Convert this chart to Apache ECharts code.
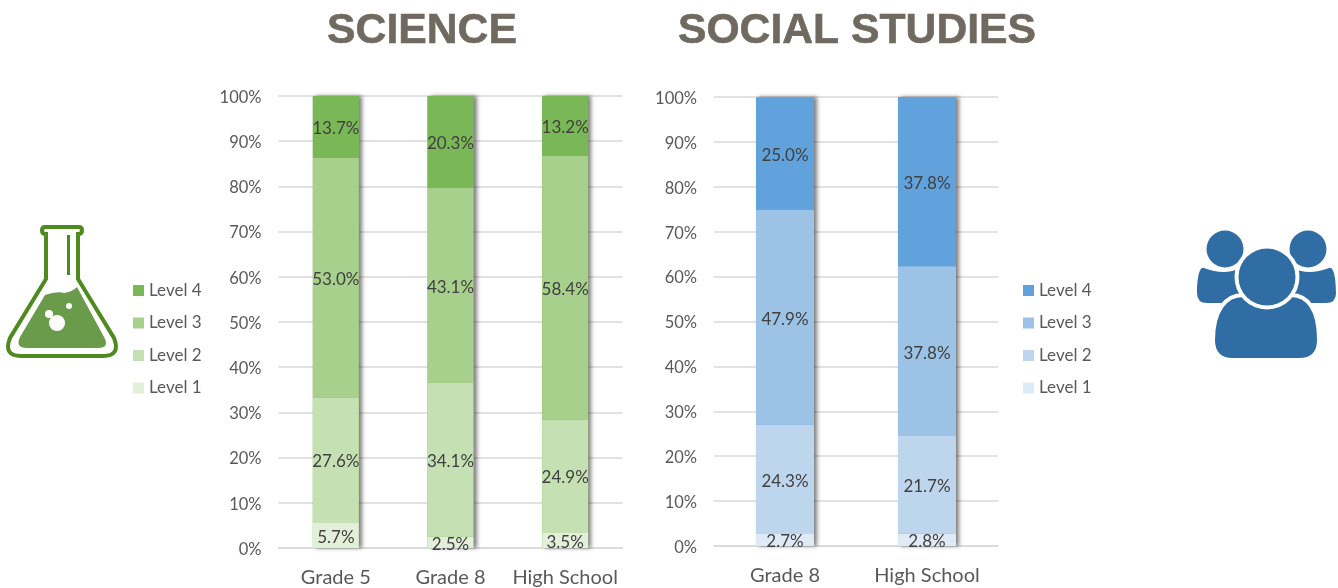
<!DOCTYPE html>
<html><head><meta charset="utf-8">
<script src="https://cdn.jsdelivr.net/npm/echarts@6/dist/echarts.min.js"></script>
<style>html,body{margin:0;padding:0;background:#fff}#c{width:1338px;height:588px}</style>
</head><body><div id="c"></div>
<script>
const levels = ['Level 1','Level 2','Level 3','Level 4'];
const legendOrder = ['Level 4','Level 3','Level 2','Level 1'];
const scienceCats = ['Grade 5','Grade 8','High School'];
const scienceL1 = [5.7,2.5,3.5];
const scienceL2 = [27.6,34.1,24.9];
const scienceL3 = [53.0,43.1,58.4];
const scienceL4 = [13.7,20.3,13.2];
const socialCats = ['Grade 8','High School'];
const socialL1 = [2.7,2.8];
const socialL2 = [24.3,21.7];
const socialL3 = [47.9,37.8];
const socialL4 = [25.0,37.8];
const greens = ['#e2efd9','#c5e0b3','#a8d08d','#7ab756'];
const blues = ['#deeaf6','#bdd6ee','#9cc2e5','#62a2dc'];
const FONT = 'Lato';

function bars(arrs, colors, axis, stack, width){
  const totals = arrs[0].map((_,k)=>arrs.reduce((s,a)=>s+a[k],0));
  const backing = {name:'backing'+axis,type:'bar',stack:stack+'Back',xAxisIndex:axis,yAxisIndex:axis,
    barWidth:width,barGap:'-100%',z:1,data:totals,silent:true,
    itemStyle:{color:colors[3],shadowColor:'rgba(0,0,0,0.5)',shadowBlur:4,shadowOffsetX:3,shadowOffsetY:0}};
  return [backing].concat(arrs.map((d,i)=>({
    name: levels[i], type:'bar', stack, xAxisIndex:axis, yAxisIndex:axis,
    barWidth: width, barGap:'-100%', z:2, data:d,
    itemStyle:{color:colors[i]},
    label:{show:true,position:'inside',offset:[0,2],color:'#404040',fontFamily:FONT,fontSize:17,
      formatter:p=>p.value.toFixed(1)+'%'},
    emphasis:{disabled:true}
  })));
}
function legend(colors,left){
  return {orient:'vertical',left,top:277,itemWidth:11,itemHeight:11,itemGap:15.5,
    icon:'rect',selectedMode:false,
    textStyle:{color:'#595959',fontFamily:FONT,fontSize:17},
    data:legendOrder.map(n=>({name:n,itemStyle:{color:colors[levels.indexOf(n)]}}))};
}
function xA(cats,g){return {type:'category',gridIndex:g,data:cats,
  axisLine:{lineStyle:{color:'#d9d9d9',width:1.5}},axisTick:{show:false},
  axisLabel:{color:'#595959',fontFamily:FONT,fontSize:20,margin:20,interval:0}};}
function yA(g){return {type:'value',gridIndex:g,min:0,max:100,interval:10,
  axisLine:{show:false},axisTick:{show:false},
  splitLine:{lineStyle:{color:'#d9d9d9',width:1.5}},
  axisLabel:{margin:17,formatter:'{t|{value}%}',
    rich:{t:{color:'#595959',fontFamily:FONT,fontSize:16.5,padding:[3,0,0,0]}}}};}

function icon(name,d){echarts.graphic.registerShape(name,echarts.graphic.extendPath(d,{}));return name;}
const flask = {type:'group',silent:true,children:[
  {type:icon('flaskBody','M45,227 L79,227 Q82,227 82,230.5 Q82,234 78,234 L78,279 L114,338 Q121,356 103,356 L21,356 Q3,356 10,338 L46,279 L46,234 Q42,234 42,230.5 Q42,227 45,227 Z'),
   style:{fill:'#fff',stroke:'#4e8a1e',lineWidth:4}},
  {type:icon('flaskLiquid','M45,295 Q58,291 64,293 Q72,292 77,287 L104,337 Q110,348 98,348 L27,348 Q15,348 20,337 Z'),
   style:{fill:'#6a9b4a'}},
  {type:'line',shape:{x1:68.5,y1:235,x2:68.5,y2:275},style:{stroke:'#4e8a1e',lineWidth:3}},
  {type:'circle',shape:{cx:49,cy:314,r:4},style:{fill:'#fff'}},
  {type:'circle',shape:{cx:57,cy:323,r:8},style:{fill:'#fff'}},
  {type:'circle',shape:{cx:69,cy:306,r:3},style:{fill:'#fff'}}
]};
const people = {type:'group',silent:true,children:[
  {type:'circle',shape:{cx:1225,cy:249,r:18.5},style:{fill:'#2f6da4'}},
  {type:'circle',shape:{cx:1308,cy:249,r:18.5},style:{fill:'#2f6da4'}},
  {type:icon('shoulderL','M1204,268 Q1225,276 1240,268 L1250,303 L1207,303 Q1197,303 1197,293 C1197,280 1199,266 1204,268 Z'),style:{fill:'#2f6da4'}},
  {type:icon('shoulderR','M1329,268 Q1308,276 1293,268 L1283,303 L1326,303 Q1336,303 1336,293 C1336,280 1334,266 1329,268 Z'),style:{fill:'#2f6da4'}},
  {type:icon('torso','M1213,340 C1213,310 1226,295 1243,295 L1291,295 C1308,295 1319,310 1319,340 Q1319,360 1299,360 L1233,360 Q1213,360 1213,340 Z'),
   style:{fill:'#2f6da4',stroke:'#fff',lineWidth:4}},
  {type:'circle',shape:{cx:1267,cy:277,r:32.5},style:{fill:'#fff'}},
  {type:'circle',shape:{cx:1267,cy:277,r:28.5},style:{fill:'#2f6da4'}}
]};

const chart = echarts.init(document.getElementById('c'),null,{renderer:'canvas'});
chart.setOption({
  animation:false,backgroundColor:'#fff',
  title:[
    {text:'SCIENCE',left:417,top:5,textAlign:'center',textStyle:{fontFamily:'Liberation Sans',fontWeight:'bold',fontSize:42.7,color:'#706960',textBorderColor:'#706960',textBorderWidth:0.6}},
    {text:'SOCIAL STUDIES',left:852,top:5,textAlign:'center',textStyle:{fontFamily:'Liberation Sans',fontWeight:'bold',fontSize:42.7,color:'#706960',textBorderColor:'#706960',textBorderWidth:0.6}}
  ],
  legend:[legend(greens,128),legend(blues,1018)],
  grid:[
    {left:278.5,top:96,width:344,height:452},
    {left:714,top:97,width:284,height:449}
  ],
  xAxis:[xA(scienceCats,0),xA(socialCats,1)],
  yAxis:[yA(0),yA(1)],
  series:[
    ...bars([scienceL1,scienceL2,scienceL3,scienceL4],greens,0,'sci',46),
    ...bars([socialL1,socialL2,socialL3,socialL4],blues,1,'soc',58)
  ],
  graphic:[flask,people]
});
</script></body></html>
